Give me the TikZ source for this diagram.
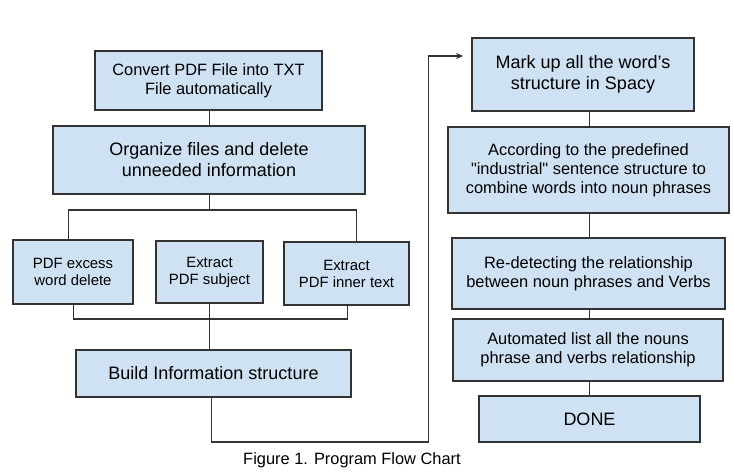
\documentclass[tikz,border=0pt]{standalone}
\usepackage{fontspec}
\setmainfont{Liberation Sans}[Ligatures=TeXOff]
\usetikzlibrary{arrows.meta}
\definecolor{boxfill}{HTML}{CFE2F3}
\definecolor{boxdraw}{HTML}{333333}
\tikzset{
  box/.style={draw=boxdraw, fill=boxfill, line width=1.2pt, align=center, inner sep=0pt},
  conn/.style={draw=boxdraw, line width=1.2pt},
  fs/.style={font=\fontsize{16.4}{19}\selectfont},
  fl/.style={font=\fontsize{18}{21}\selectfont},
  fm/.style={font=\fontsize{14.9}{17}\selectfont},
}
\begin{document}
\begin{tikzpicture}[x=1pt,y=-1pt]
\useasboundingbox (0,0) rectangle (734,474);
% left column
\node[box,fs,minimum width=227pt,minimum height=59pt] (convert) at (208.5,80.5) {Convert PDF File into TXT\\File automatically};
\node[box,fl,minimum width=312pt,minimum height=68pt] (organize) at (209,160) {Organize files and delete\\unneeded information};
\node[box,fm,minimum width=120pt,minimum height=64pt] (excess) at (73,272) {PDF excess\\word delete};
\node[box,fm,minimum width=107pt,minimum height=62pt] (subject) at (209.5,272) {Extract\\PDF subject};
\node[box,fm,minimum width=125pt,minimum height=63pt] (inner) at (346.5,273.5) {Extract\\PDF inner text};
\node[box,fl,minimum width=275pt,minimum height=47pt] (build) at (213.5,373.5) {Build Information structure};
% right column
\node[box,fl,minimum width=222pt,minimum height=73pt] (markup) at (583,74.5) {Mark up all the word’s\\structure in Spacy};
\node[box,fs,minimum width=281pt,minimum height=86pt] (according) at (588.5,170) {According to the predefined\\"industrial" sentence structure to\\combine words into noun phrases};
\node[box,fs,minimum width=273pt,minimum height=71pt] (redetect) at (588.5,273.5) {Re-detecting the relationship\\between noun phrases and Verbs};
\node[box,fs,minimum width=270pt,minimum height=62pt] (automated) at (588,350) {Automated list all the nouns\\phrase and verbs relationship};
\node[box,fl,minimum width=221pt,minimum height=46pt] (done) at (589.5,419) {DONE};
% caption
\node[fs,inner sep=0pt] (caption) at (352,460) {Figure 1. Program Flow Chart};
% connectors left
\draw[conn] (convert.south -| 209.5,0) -- (organize.north -| 209.5,0);
\draw[conn] (organize.south -| 209.5,0) -- (209.5,210);
\draw[conn] (excess.north -| 68.5,0) -- (68.5,210) -- (356.5,210) -- (inner.north -| 356.5,0);
\draw[conn] (excess.south -| 73.5,0) -- (73.5,319) -- (347.5,319) -- (inner.south -| 347.5,0);
\draw[conn] (subject.south -| 209.5,0) -- (build.north -| 209.5,0);
\coordinate (tip) at (463,56);
\draw[conn,-{Stealth[length=7pt,width=6pt]}] (build.south -| 211.5,0) -- (211.5,442) -- (428.5,442) -- (428.5,56) -- (tip);
% connectors right
\draw[conn] (markup.south -| 589.5,0) -- (according.north -| 589.5,0);
\draw[conn] (according.south -| 589.5,0) -- (redetect.north -| 589.5,0);
\draw[conn] (redetect.south -| 589.5,0) -- (automated.north -| 589.5,0);
\draw[conn] (automated.south -| 589.5,0) -- (done.north -| 589.5,0);
\end{tikzpicture}
\end{document}
